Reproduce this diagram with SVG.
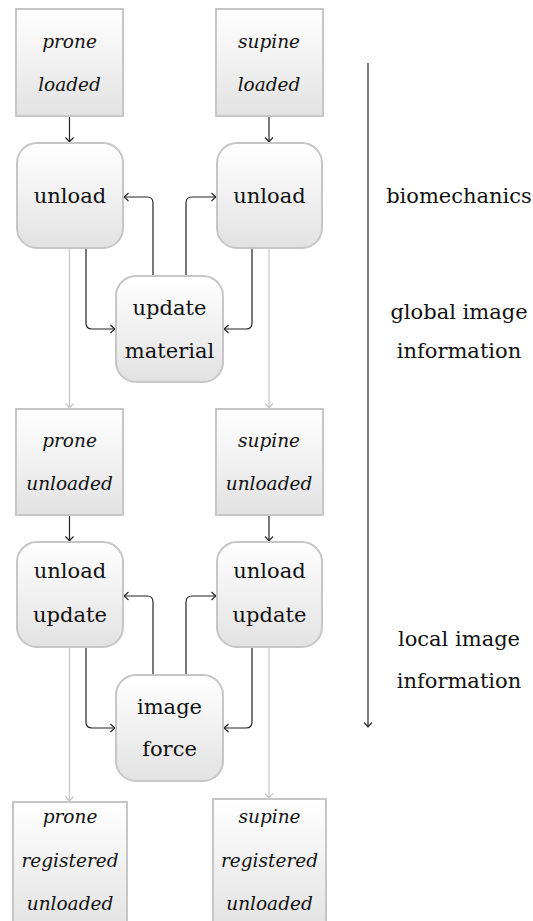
<svg xmlns="http://www.w3.org/2000/svg" width="533" height="921" viewBox="0 0 533 921">
  <defs>
    <linearGradient id="fill" x1="0" y1="0" x2="0" y2="1">
      <stop offset="0" stop-color="#ffffff"/>
      <stop offset="1" stop-color="#e2e2e2"/>
    </linearGradient>
    <marker id="arr" markerUnits="userSpaceOnUse" markerWidth="12" markerHeight="12" viewBox="-6 -6 12 12" refX="0" refY="0" orient="auto">
      <path d="M-4.5,-4 Q-1.5,-1 0,0 Q-1.5,1 -4.5,4" fill="none" stroke="#222" stroke-width="1.1"/>
    </marker>
    <marker id="arrg" markerUnits="userSpaceOnUse" markerWidth="12" markerHeight="12" viewBox="-6 -6 12 12" refX="0" refY="0" orient="auto">
      <path d="M-4.5,-4 Q-1.5,-1 0,0 Q-1.5,1 -4.5,4" fill="none" stroke="#c4c4c4" stroke-width="1.1"/>
    </marker>
  </defs>
  <style>
    .box { fill: url(#fill); stroke: #c6c6c6; stroke-width: 2; }
    text { fill: #111; text-anchor: middle; }
    .t { font-size: 21px; }
    .i { font-style: italic; font-size: 18.5px; }
    .c { fill: none; stroke: #222; stroke-width: 1.2; marker-end: url(#arr); }
    .g { fill: none; stroke: #c4c4c4; stroke-width: 1.2; marker-end: url(#arrg); }
  </style>

  <g id="connectors">
    <path class="c" d="M69.5,116 V142"/>
    <path class="c" d="M269,116 V142"/>
    <path class="c" d="M153,276 V203 Q153,197 147,197 H124"/>
    <path class="c" d="M186,276 V203 Q186,197 192,197 H216"/>
    <path class="c" d="M86,248 V323 Q86,329 92,329 H115"/>
    <path class="c" d="M252,248 V323 Q252,329 246,329 H224"/>
    <path class="g" d="M69.5,248 V408"/>
    <path class="g" d="M269,248 V408"/>
    <path class="c" d="M69.5,515 V541"/>
    <path class="c" d="M269,515 V541"/>
    <path class="c" d="M153,675 V602 Q153,596 147,596 H124"/>
    <path class="c" d="M186,675 V602 Q186,596 192,596 H216"/>
    <path class="c" d="M86,647 V722 Q86,728 92,728 H115"/>
    <path class="c" d="M252,647 V722 Q252,728 246,728 H224"/>
    <path class="g" d="M69.5,647 V801"/>
    <path class="g" d="M269,647 V798"/>
    <path class="c" d="M368,63 V727"/>
  </g>

  <g font-family="DejaVu Serif, serif">
  <g id="prone-loaded">
    <rect class="box" x="16" y="9" width="107" height="107"/>
    <text class="i" x="69.5" y="48">prone</text>
    <text class="i" x="69.5" y="91">loaded</text>
  </g>
  <g id="supine-loaded">
    <rect class="box" x="216" y="9" width="107" height="107"/>
    <text class="i" x="269" y="48">supine</text>
    <text class="i" x="269" y="91">loaded</text>
  </g>
  <g id="unload-prone">
    <rect class="box" x="17" y="143" width="106" height="105" rx="20"/>
    <text class="t" x="70" y="203">unload</text>
  </g>
  <g id="unload-supine">
    <rect class="box" x="217" y="143" width="105" height="105" rx="20"/>
    <text class="t" x="269.5" y="203">unload</text>
  </g>
  <g id="update-material">
    <rect class="box" x="116" y="276" width="107" height="106" rx="20"/>
    <text class="t" x="169.5" y="315">update</text>
    <text class="t" x="169.5" y="358">material</text>
  </g>
  <g id="prone-unloaded">
    <rect class="box" x="16" y="409" width="107" height="106"/>
    <text class="i" x="69.5" y="447">prone</text>
    <text class="i" x="69.5" y="490">unloaded</text>
  </g>
  <g id="supine-unloaded">
    <rect class="box" x="216" y="409" width="107" height="106"/>
    <text class="i" x="269" y="447">supine</text>
    <text class="i" x="269" y="490">unloaded</text>
  </g>
  <g id="unload-update-prone">
    <rect class="box" x="17" y="542" width="106" height="105" rx="20"/>
    <text class="t" x="70" y="578">unload</text>
    <text class="t" x="70" y="622">update</text>
  </g>
  <g id="unload-update-supine">
    <rect class="box" x="217" y="542" width="105" height="105" rx="20"/>
    <text class="t" x="269.5" y="578">unload</text>
    <text class="t" x="269.5" y="622">update</text>
  </g>
  <g id="image-force">
    <rect class="box" x="116" y="675" width="107" height="106" rx="20"/>
    <text class="t" x="169.5" y="714">image</text>
    <text class="t" x="169.5" y="756">force</text>
  </g>
  <g id="prone-registered">
    <rect class="box" x="13" y="802" width="114" height="130"/>
    <text class="i" x="70" y="823">prone</text>
    <text class="i" x="70" y="867">registered</text>
    <text class="i" x="70" y="910">unloaded</text>
  </g>
  <g id="supine-registered">
    <rect class="box" x="213" y="799" width="113" height="130"/>
    <text class="i" x="269.5" y="823">supine</text>
    <text class="i" x="269.5" y="867">registered</text>
    <text class="i" x="269.5" y="910">unloaded</text>
  </g>

  <g id="stage-labels">
    <text class="t" x="459" y="203">biomechanics</text>
    <text class="t" x="459" y="319">global image</text>
    <text class="t" x="459" y="358">information</text>
    <text class="t" x="459" y="646">local image</text>
    <text class="t" x="459" y="688">information</text>
  </g>
  </g>
</svg>
